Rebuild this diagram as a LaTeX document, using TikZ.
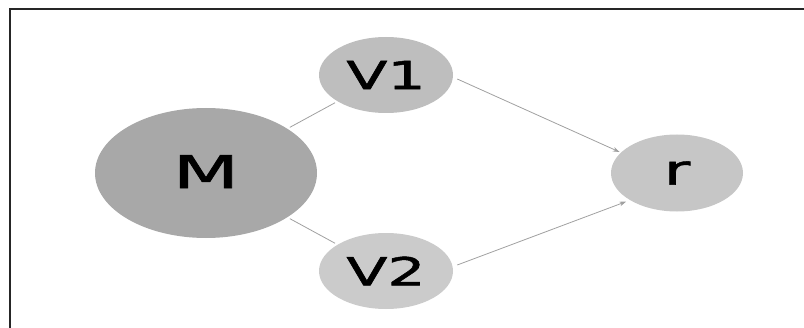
\documentclass[tikz,border=0pt]{standalone}
\usepackage{fontspec}
\setmainfont{DejaVu Sans}
\newfontfamily\lblfont[FakeBold=1.2]{DejaVu Sans}
\usetikzlibrary{arrows.meta,shapes.geometric}
\definecolor{mgray}{HTML}{A8A8A8}
\definecolor{vonegray}{HTML}{BEBEBE}
\definecolor{vtwogray}{HTML}{CBCBCB}
\definecolor{rgray}{HTML}{C6C6C6}
\definecolor{linegray}{HTML}{A0A0A0}
\tikzset{
  blob/.style={ellipse, draw=none, inner sep=0pt, text=black, font=\lblfont},
  conn/.style={draw=linegray, line width=0.6pt},
  arr/.style={conn, -{Stealth[length=5pt,width=3.5pt]}},
}
\begin{document}
\begin{tikzpicture}[x=0.75pt,y=-0.75pt]
\useasboundingbox (0,0) rectangle (804,328);
\draw[line width=1.5pt, draw=black!85] (10,340) -- (10,9) -- (820,9);
\node[blob, fill=mgray, minimum width=166.5pt, minimum height=97.5pt] (M) at (206,173) {\fontsize{34}{34}\selectfont\raisebox{2pt}{\scalebox{1.7}[1]{M}}};
\node[blob, fill=vonegray, minimum width=100.5pt, minimum height=57pt] (V1) at (386,75) {\fontsize{29}{29}\selectfont\scalebox{1.55}[1]{V1}};
\node[blob, fill=vtwogray, minimum width=100.5pt, minimum height=57pt] (V2) at (386,271) {\fontsize{29}{29}\selectfont\scalebox{1.55}[1]{V2}};
\node[blob, fill=rgray, minimum width=99pt, minimum height=57.75pt] (r) at (677,173) {\fontsize{31}{31}\selectfont\scalebox{1.55}[1]{r}};
\draw[conn, shorten <=2pt, shorten >=2pt] (M) -- (V1);
\draw[conn, shorten <=2pt, shorten >=2pt] (M) -- (V2);
\draw[arr, shorten >=1pt] ([shift={(4,4)}]V1.east) -- (r.160);
\draw[arr, shorten >=3pt] ([shift={(4,-6)}]V2.east) -- (r.210);
\end{tikzpicture}
\end{document}
